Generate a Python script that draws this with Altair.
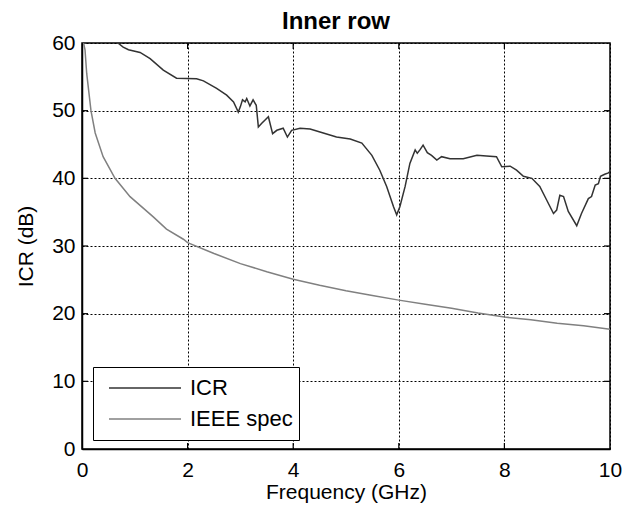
import altair as alt
import pandas as pd

# ---- data ----
icr_f = [0.68, 0.78, 0.88, 1.10, 1.29, 1.54, 1.79, 2.17, 2.30, 2.55, 2.74, 2.87, 2.96, 3.00,
         3.04, 3.09, 3.12, 3.18, 3.24, 3.30, 3.34, 3.40, 3.53, 3.61, 3.69, 3.81, 3.89, 3.97,
         4.13, 4.32, 4.57, 4.82, 5.08, 5.30, 5.49, 5.64, 5.77, 5.90, 5.96, 6.02, 6.12, 6.21,
         6.31, 6.35, 6.40, 6.46, 6.54, 6.62, 6.72, 6.81, 6.97, 7.22, 7.48, 7.66, 7.85, 7.95,
         8.11, 8.23, 8.36, 8.52, 8.67, 8.80, 8.93, 8.99, 9.05, 9.12, 9.21, 9.37, 9.46, 9.59,
         9.65, 9.72, 9.78, 9.82, 9.90, 9.97, 10.0]
icr_db = [60, 59.4, 59.0, 58.6, 57.7, 56.0, 54.8, 54.7, 54.4, 53.3, 52.3, 51.3, 49.8, 50.6,
          51.6, 51.3, 51.8, 50.7, 51.6, 50.8, 47.6, 48.1, 49.1, 46.6, 47.1, 47.4, 46.1, 47.1,
          47.4, 47.3, 46.7, 46.1, 45.8, 45.2, 43.4, 41.2, 38.8, 35.8, 34.6, 35.8, 38.8, 42.2,
          44.2, 43.7, 44.2, 44.9, 43.8, 43.4, 42.7, 43.2, 42.9, 42.9, 43.4, 43.3, 43.2, 41.7,
          41.8, 41.2, 40.3, 40.0, 38.8, 36.8, 34.8, 35.3, 37.5, 37.3, 35.1, 33.0, 34.8, 37.0,
          37.3, 39.0, 39.2, 40.3, 40.6, 40.8, 41.0]

ieee_f = [0.03, 0.057, 0.089, 0.17, 0.25, 0.40, 0.625, 0.91, 1.35, 1.60, 1.92, 2.0, 2.5, 3.0,
          3.5, 4.0, 4.5, 5.0, 5.5, 6.0, 6.5, 7.0, 7.5, 8.0, 8.5, 9.0, 9.5, 10.0]
ieee_db = [60, 59.0, 55.5, 50.0, 46.7, 43.2, 40.0, 37.3, 34.3, 32.5, 31.0, 30.5, 28.9, 27.4,
           26.2, 25.1, 24.2, 23.4, 22.7, 22.0, 21.4, 20.8, 20.1, 19.5, 19.1, 18.6, 18.2, 17.7]

series_names = ["ICR", "IEEE spec"]
series_colors = ["#333333", "#808080"]

x_ticks = [0, 2, 4, 6, 8, 10]
y_ticks = [0, 10, 20, 30, 40, 50, 60]
x_inner_ticks = [2, 4, 6, 8]
y_inner_ticks = [10, 20, 30, 40, 50]

FONT = "Liberation Sans"
W, H = 528, 406

df = pd.concat([
    pd.DataFrame({"f": icr_f, "v": icr_db, "series": series_names[0], "order": range(len(icr_f))}),
    pd.DataFrame({"f": ieee_f, "v": ieee_db, "series": series_names[1], "order": range(len(ieee_f))}),
])

xscale = alt.Scale(domain=[0, 10], nice=False, zero=False)
yscale = alt.Scale(domain=[0, 60], nice=False, zero=False)

lines = alt.Chart(df).mark_line(strokeWidth=1.5, clip=True).encode(
    x=alt.X("f:Q", scale=xscale, title="Frequency (GHz)",
            axis=alt.Axis(values=x_ticks, format="d")),
    y=alt.Y("v:Q", scale=yscale, title="ICR (dB)",
            axis=alt.Axis(values=y_ticks, format="d")),
    color=alt.Color("series:N",
                    scale=alt.Scale(domain=series_names, range=series_colors),
                    legend=alt.Legend(title=None, orient="none", legendX=11, legendY=324,
                                      padding=6, strokeColor="black", fillColor="white",
                                      cornerRadius=0, symbolType="stroke", symbolSize=5184,
                                      symbolStrokeWidth=1.5, clipHeight=30, rowPadding=1,
                                      labelFont=FONT, labelFontSize=22, labelColor="black",
                                      labelOffset=8, symbolOffset=9)),
    detail="series:N",
    order="order:Q",
)

xt = pd.DataFrame({"t": x_inner_ticks})
yt = pd.DataFrame({"t": y_inner_ticks})
tick_style = dict(color="black", strokeWidth=1.2)
xb = alt.Chart(xt).mark_rule(**tick_style).encode(x=alt.X("t:Q", scale=xscale), y=alt.value(H), y2=alt.value(H - 6))
xtop = alt.Chart(xt).mark_rule(**tick_style).encode(x=alt.X("t:Q", scale=xscale), y=alt.value(0), y2=alt.value(6))
yl = alt.Chart(yt).mark_rule(**tick_style).encode(y=alt.Y("t:Q", scale=yscale), x=alt.value(0), x2=alt.value(6))
yr = alt.Chart(yt).mark_rule(**tick_style).encode(y=alt.Y("t:Q", scale=yscale), x=alt.value(W), x2=alt.value(W - 6))

chart = alt.layer(lines, xb, xtop, yl, yr).properties(
    width=W, height=H,
    autosize=alt.AutoSizeParams(type="none"),
    padding={"left": 74, "top": 35, "right": 17, "bottom": 56},
    title=alt.Title("Inner row", font=FONT, fontSize=24, fontWeight="bold", color="black",
                    anchor="middle", offset=2, dx=-10, dy=4),
).configure(
    background="white"
).configure_view(
    stroke="black", strokeWidth=1.5
).configure_axis(
    labelFont=FONT, labelFontSize=21, labelColor="black",
    titleFont=FONT, titleFontSize=21, titleFontWeight="normal", titleColor="black",
    ticks=False, domainColor="black", domainWidth=1.5,
    grid=True, gridColor="black", gridDash=[2, 2], gridWidth=1, gridOpacity=1,
    labelFlush=False,
).configure_axisX(
    labelPadding=10, titlePadding=1
).configure_axisY(
    labelPadding=7, titlePadding=15
)

chart.save("out.html", embed_options={"renderer": "svg", "actions": False})
